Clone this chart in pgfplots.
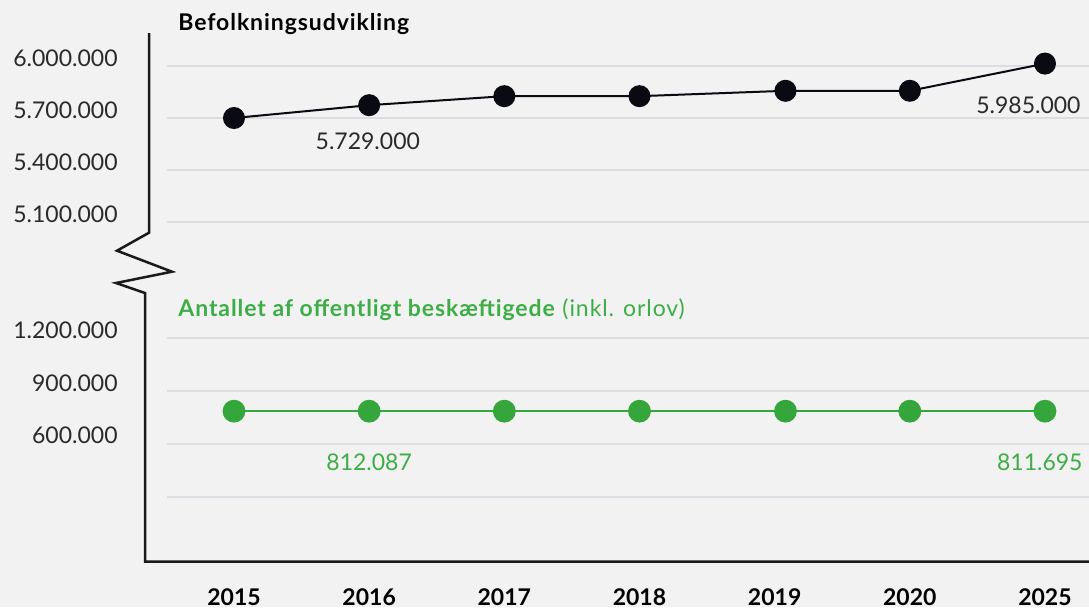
\documentclass[border=0pt]{standalone}
\usepackage{fontspec}
\setmainfont{Lato}
\usepackage{pgfplots}
\pgfplotsset{compat=1.18}
\definecolor{bg}{HTML}{F2F2F2}
\definecolor{gridc}{HTML}{DCDCE2}
\definecolor{axc}{HTML}{1A1A1A}
\definecolor{tickc}{HTML}{2A2A2A}
\definecolor{ptblack}{HTML}{0A0A12}
\definecolor{grn}{HTML}{34A63B}
\definecolor{grnlab}{HTML}{3DAE46}
\newfontfamily\titlefont[LetterSpace=4]{Lato}
\begin{document}
\begin{tikzpicture}
\fill[bg] (0pt,0pt) rectangle (544.5pt,-303.5pt);
\pgfplotsset{
  common/.style={
    scale only axis, width=461pt, clip=false,
    xmin=-0.4957, xmax=6.3255,
    axis line style={draw=none},
    major tick length=0pt,
    scaled y ticks=false,
    ymajorgrids, grid style={color=gridc, line width=1pt},
    xtick=\empty,
    yticklabel style={anchor=base east, inner sep=0pt, xshift=-24.5pt, text=tickc, font=\fontsize{11.5}{13}\selectfont},
  }
}
% upper axis
\begin{axis}[common, height=99.5pt, anchor=south west, at={(83.5pt,-116pt)},
  ymin=5042300, ymax=6190400,
  ytick={5100000,5400000,5700000,6000000},
  yticklabels={5.100.000,5.400.000,5.700.000,6.000.000}]
\addplot[color=ptblack, line width=1pt, mark=*, mark size=5pt, mark options={fill=ptblack}] coordinates {
(0,5700000) (1,5774000) (2,5826000) (3,5826000) (4.08,5857000) (5,5857000) (6,6014000)};
\node[anchor=base, inner sep=0pt, text=tickc, font=\fontsize{11.5}{13}\selectfont] at (axis cs:0.99,5517700) {5.729.000};
\node[anchor=base east, inner sep=0pt, text=tickc, font=\fontsize{11.5}{13}\selectfont] at (axis cs:6.266,5728800) {5.985.000};
\end{axis}
% lower axis
\begin{axis}[common, height=133.35pt, anchor=south west, at={(83.5pt,-280.85pt)},
  ymin=-69300, ymax=1446000,
  ytick={300000,600000,900000,1200000},
  yticklabels={,600.000,900.000,1.200.000},
  xtick={0,1,2,3,4,5,6},
  xticklabels={2015,2016,2017,2018,2019,2020,2025},
  xticklabel style={anchor=base, inner sep=0pt, yshift=-21.65pt, text=black, font=\fontsize{11.5}{13}\selectfont\bfseries}]
\addplot[color=grn, line width=1pt, mark=*, mark size=5.2pt, mark options={fill=grn}] coordinates {
(0,786000) (1,786000) (2,786000) (3,786000) (4.08,786000) (5,786000) (6,786000)};
\node[anchor=base, inner sep=0pt, text=grnlab, font=\fontsize{11.5}{13}\selectfont] at (axis cs:1,450000) {812.087};
\node[anchor=base east, inner sep=0pt, text=grnlab, font=\fontsize{11.5}{13}\selectfont] at (axis cs:6.281,450000) {811.695};
\end{axis}
% axis line with break
\draw[axc, line width=1.25pt, line join=miter] (74.5pt,-16.5pt) -- (74.5pt,-116.35pt) -- (58.5pt,-125.35pt) -- (86pt,-135.85pt) -- (58pt,-141.5pt) -- (72.5pt,-146.5pt) -- (72.5pt,-280.85pt) -- (544.5pt,-280.85pt);
% titles
\node[anchor=base west, inner sep=0pt, font=\titlefont\fontsize{11.5}{13}\selectfont\bfseries] at (89pt,-15.25pt) {Befolkningsudvikling};
\node[anchor=base west, inner sep=0pt, text=grnlab, font=\titlefont\fontsize{11.5}{13}\selectfont] at (89pt,-158pt) {\textbf{Antallet af offentligt beskæftigede} (inkl. orlov)};
\pgfresetboundingbox
\path (0pt,0pt) rectangle (544.5pt,-303.5pt);
\end{tikzpicture}
\end{document}
